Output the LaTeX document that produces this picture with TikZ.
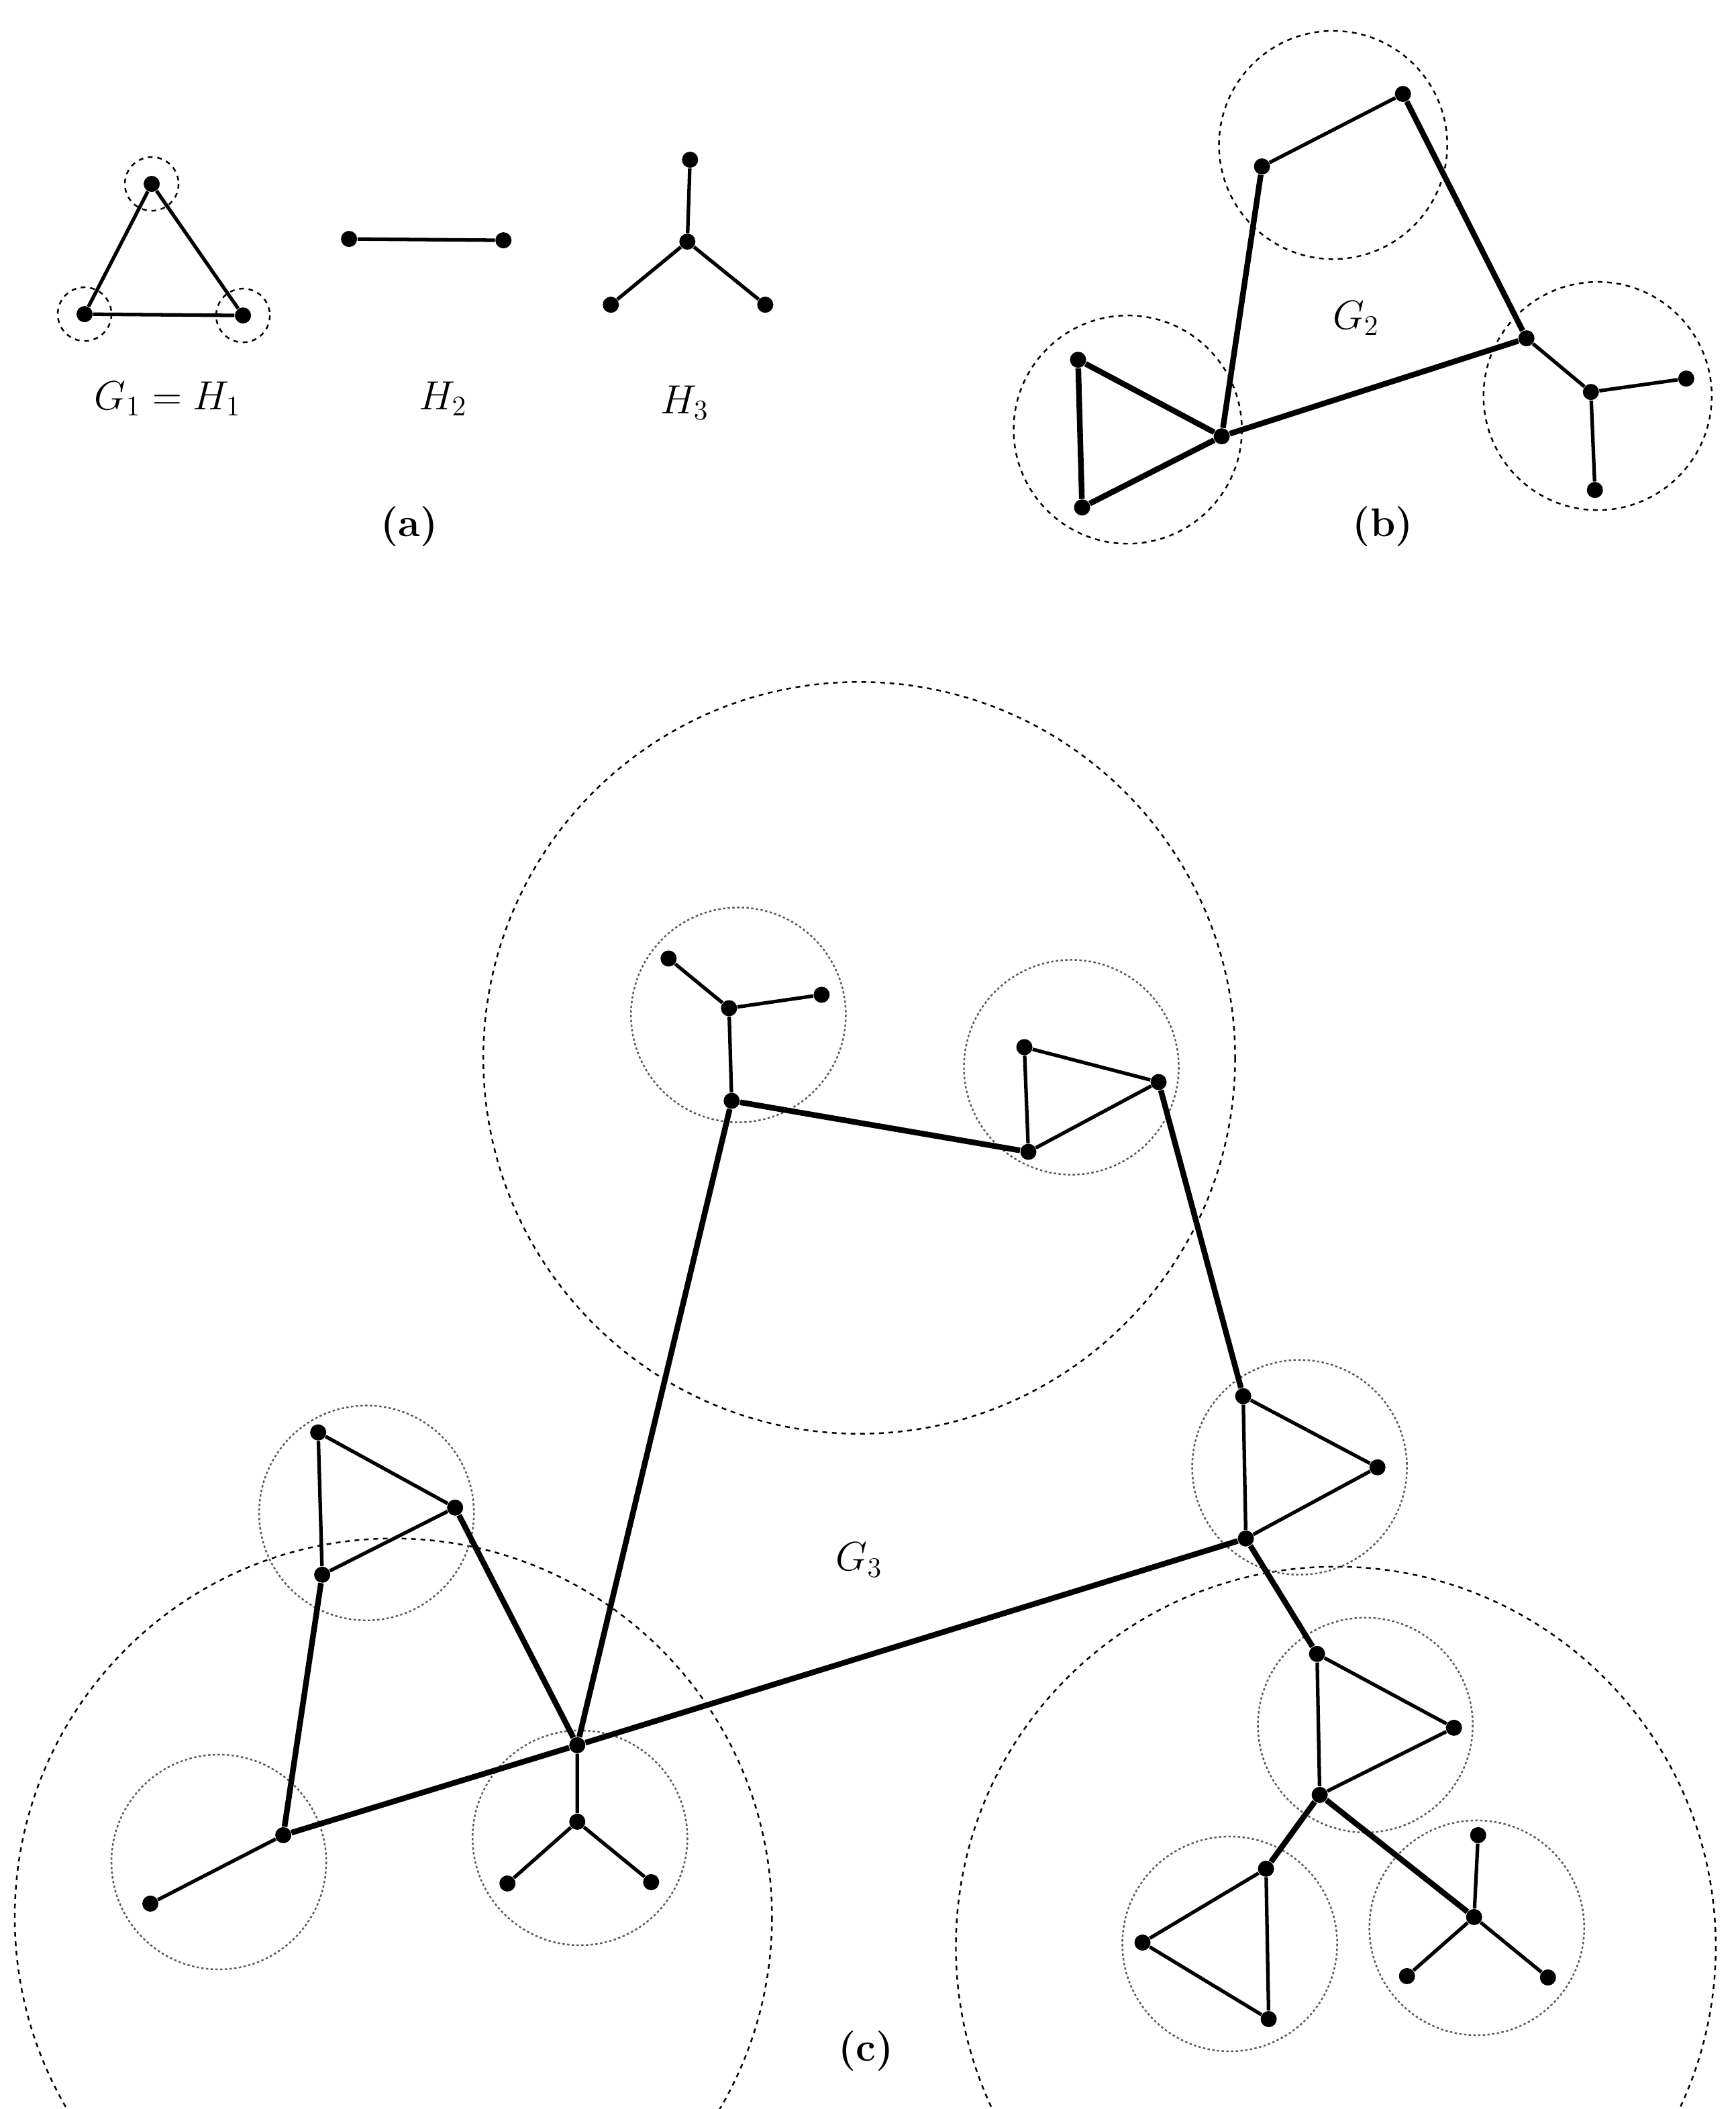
\documentclass[tikz,border=0pt]{standalone}
\begin{document}
\begin{tikzpicture}[x=0.02cm,y=-0.02cm,
  v/.style={circle,fill=black,inner sep=0pt,minimum size=0.24cm},
  thin edge/.style={line width=1.5pt},
  thick edge/.style={line width=2.4pt},
  bigc/.style={dashed,dash pattern=on 2pt off 2pt,line width=0.7pt},
  smallc/.style={dash pattern=on 1pt off 1pt,line width=0.7pt,gray!70!black},
  lab/.style={font=\fontsize{17}{20}\selectfont}]
\useasboundingbox (0,0) rectangle (1293,1571);
% (a)
\foreach \n/\x/\y in {a1/113/137,a2/63/234,a3/181/235,h1/260/178,h2/375/179,k0/512/180,k1/514/119,k2/455/227,k3/570/227}
  \node[v] (\n) at (\x,\y) {};
\foreach \n in {a1,a2,a3} \draw[bigc] (\n) circle (20);
\draw[thin edge] (a1)--(a2)--(a3)--(a1);
\draw[thin edge] (h1)--(h2);
\draw[thin edge] (k0)--(k1) (k0)--(k2) (k0)--(k3);
\node[lab] (la) at (125,297) {$G_1=H_1$};
\node[lab] (lh2) at (330,297) {$H_2$};
\node[lab] (lh3) at (510,300) {$H_3$};
\node[lab] (capa) at (305,392) {\textbf{(a)}};
% (b)
\coordinate (cb1) at (993,108); \coordinate (cb2) at (840,320); \coordinate (cb3) at (1190,295);
\foreach \c in {cb1,cb2,cb3} \draw[bigc] (\c) circle (85);
\foreach \n/\x/\y in {b1/940/124,b2/1045/70,b3/1137/252,b4/910/325,b5/803/268,b6/806/378,b7/1185/292,b8/1256/282,b9/1188/365}
  \node[v] (\n) at (\x,\y) {};
\draw[thin edge] (b1)--(b2);
\draw[thick edge] (b2)--(b3) (b1)--(b4) (b4)--(b3);
\draw[thick edge] (b5)--(b6)--(b4)--(b5);
\draw[thin edge] (b3)--(b7) (b7)--(b8) (b7)--(b9);
\node[lab] (g2) at (1010,237) {$G_2$};
\node[lab] (capb) at (1030,392) {\textbf{(b)}};
% (c)
\draw[bigc] (640,788) circle (280);
\draw[bigc] (293,1428) circle (282);
\draw[bigc] (995,1450) circle (283);
\foreach \x/\y in {550/756,798/795,273/1127,163/1387,432/1369,968/1093,1017/1285,916/1448,1100/1436}
  \draw[smallc] (\x,\y) circle (80);
\foreach \n/\x/\y in {p1/498/714,p2/543/751,p3/612/741,p4/545/820,
  q1/763/780,q2/863/806,q3/766/858,
  t1/237/1067,t2/339/1123,t3/240/1173,p/211/1367,pq/112/1418,L/430/1300,
  m0/430/1357,m1/378/1403,m2/485/1402,
  c1/926/1040,c2/1026/1093,r/928/1146,
  d1/981/1232,d2/1083/1287,d3/983/1337,
  e1/943/1392,e2/851/1447,e3/945/1504,
  g/1098/1428,g1/1101/1367,g2/1048/1472,g3/1153/1473}
  \node[v] (\n) at (\x,\y) {};
\draw[thin edge] (p1)--(p2) (p2)--(p3) (p2)--(p4);
\draw[thick edge] (p4)--(q3);
\draw[thin edge] (q1)--(q2) (q1)--(q3) (q3)--(q2);
\draw[thick edge] (q2)--(c1) (p4)--(L);
\draw[thin edge] (t1)--(t2) (t1)--(t3) (t3)--(t2);
\draw[thick edge] (t2)--(L) (t3)--(p) (p)--(L) (L)--(r);
\draw[thin edge] (p)--(pq) (L)--(m0) (m0)--(m1) (m0)--(m2);
\draw[thin edge] (c1)--(r) (c1)--(c2) (c2)--(r);
\draw[thick edge] (r)--(d1);
\draw[thin edge] (d1)--(d3) (d1)--(d2) (d2)--(d3);
\draw[thick edge] (d3)--(e1) (d3)--(g);
\draw[thin edge] (e1)--(e2) (e2)--(e3) (e1)--(e3);
\draw[thin edge] (g)--(g1) (g)--(g2) (g)--(g3);
\node[lab] (g3l) at (640,1162) {$G_3$};
\node[lab] (capc) at (645,1528) {\textbf{(c)}};
\end{tikzpicture}
\end{document}
